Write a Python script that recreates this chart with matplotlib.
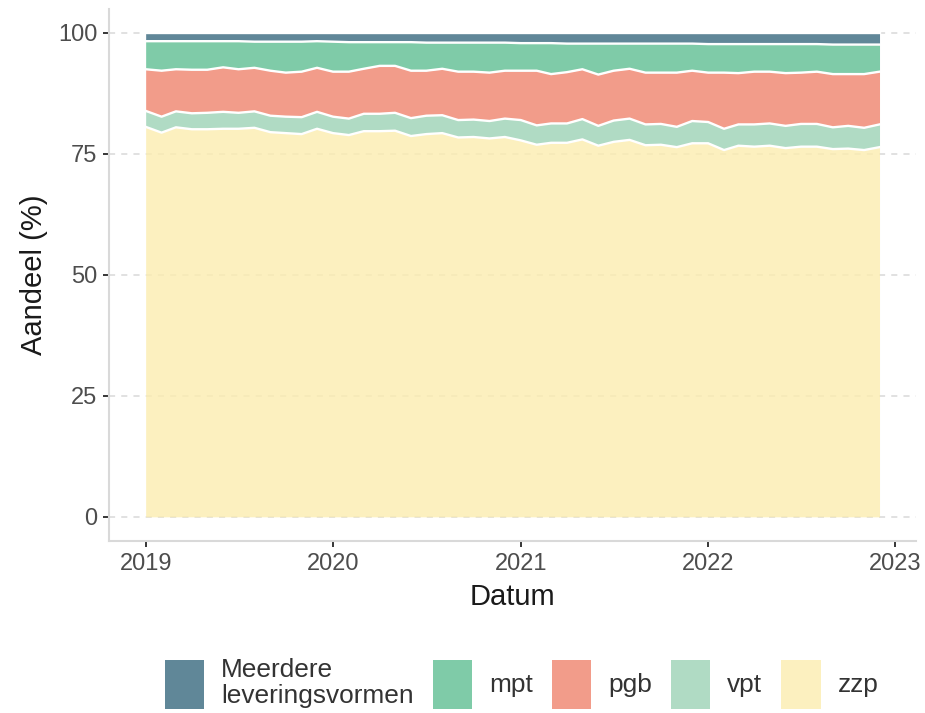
import datetime as dt
import numpy as np
import matplotlib
matplotlib.use("Agg")
import matplotlib.pyplot as plt
import matplotlib.dates as mdates
from matplotlib.patches import Patch

plt.rcParams['font.family'] = ['Liberation Sans', 'DejaVu Sans']

#%% data: monthly share (%) per leveringsvorm, jan 2019 - dec 2022
dates = [dt.date(2019 + m // 12, m % 12 + 1, 1) for m in range(48)]

zzp = [80.6, 79.4, 80.5, 80.1, 80.1, 80.2, 80.2, 80.4, 79.5, 79.3, 79.1, 80.2,
       79.3, 78.9, 79.7, 79.7, 79.8, 78.7, 79.1, 79.3, 78.4, 78.5, 78.2, 78.5,
       77.8, 76.9, 77.3, 77.3, 78.0, 76.7, 77.5, 77.9, 76.8, 76.9, 76.4, 77.2,
       77.2, 75.8, 76.7, 76.5, 76.7, 76.2, 76.5, 76.5, 76.0, 76.1, 75.8, 76.4]
vpt = [3.3, 3.3, 3.3, 3.3, 3.4, 3.5, 3.3, 3.4, 3.4, 3.4, 3.5, 3.5,
       3.4, 3.4, 3.6, 3.6, 3.7, 3.7, 3.8, 3.7, 3.6, 3.6, 3.6, 3.8,
       4.2, 4.0, 4.0, 4.0, 4.2, 4.1, 4.4, 4.4, 4.3, 4.3, 4.2, 4.6,
       4.4, 4.4, 4.4, 4.6, 4.6, 4.6, 4.7, 4.7, 4.5, 4.7, 4.6, 4.7]
pgb = [8.6, 9.5, 8.7, 9.0, 8.9, 9.2, 9.0, 9.0, 9.3, 9.1, 9.4, 9.1,
       9.3, 9.7, 9.3, 9.9, 9.7, 9.8, 9.3, 9.6, 10.0, 9.9, 10.0, 9.9,
       10.2, 11.3, 10.2, 10.6, 10.3, 10.6, 10.3, 10.3, 10.7, 10.6, 11.2, 10.4,
       10.2, 11.6, 10.6, 10.9, 10.7, 10.9, 10.6, 10.8, 11.0, 10.7, 11.1, 10.9]
mpt = [5.8, 6.1, 5.8, 5.9, 5.9, 5.4, 5.8, 5.4, 6.0, 6.4, 6.2, 5.5,
       6.2, 6.1, 5.5, 4.9, 4.9, 5.9, 5.8, 5.4, 6.0, 6.0, 6.2, 5.8,
       5.7, 5.7, 6.4, 5.9, 5.3, 6.4, 5.6, 5.2, 6.0, 6.0, 6.0, 5.6,
       5.9, 5.9, 6.0, 5.7, 5.7, 6.0, 5.9, 5.7, 6.1, 6.1, 6.1, 5.6]
meerdere = [1.7, 1.7, 1.7, 1.7, 1.7, 1.7, 1.7, 1.8, 1.8, 1.8, 1.8, 1.7,
            1.8, 1.9, 1.9, 1.9, 1.9, 1.9, 2.0, 2.0, 2.0, 2.0, 2.0, 2.0,
            2.1, 2.1, 2.1, 2.2, 2.2, 2.2, 2.2, 2.2, 2.2, 2.2, 2.2, 2.2,
            2.3, 2.3, 2.3, 2.3, 2.3, 2.3, 2.3, 2.3, 2.4, 2.4, 2.4, 2.4]

# stacking order bottom -> top
layers = [zzp, vpt, pgb, mpt, meerdere]
labels = ["zzp", "vpt", "pgb", "mpt", "Meerdere\nleveringsvormen"]
colors = ["#FCEDAF", "#9DD3B6", "#EF836D", "#5FBE92", "#38697F"]
alpha = 0.8

#%% plot
fig = plt.figure(figsize=(9.25, 7.13), dpi=100)
ax = fig.add_axes([0.1178, 0.2412, 0.8727, 0.7465])

x = mdates.date2num(dates)
bottom = np.zeros(len(x))
for vals, col in zip(layers, colors):
    top = bottom + np.array(vals)
    ax.fill_between(x, bottom, top, color=col, alpha=alpha, linewidth=0, zorder=2)
    ax.plot(x, top, color='white', linewidth=1.7, zorder=3)
    bottom = top

# 5% expansion like ggplot
span = x[-1] - x[0]
ax.set_xlim(x[0] - 0.05 * span, x[-1] + 0.05 * span)
ax.set_ylim(-5, 105)
ax.set_yticks([0, 25, 50, 75, 100])
ax.xaxis.set_major_locator(mdates.YearLocator())
ax.xaxis.set_major_formatter(mdates.DateFormatter('%Y'))

ax.grid(axis='y', color='#D9D9D9', linestyle=(0, (4, 4)), linewidth=1.1, zorder=1)
ax.set_axisbelow(True)
for s in ['top', 'right']:
    ax.spines[s].set_visible(False)
for s in ['left', 'bottom']:
    ax.spines[s].set_color('#D9D9D9')
    ax.spines[s].set_linewidth(1.5)
ax.tick_params(length=4.3, width=1.1, color='black', labelcolor='#4D4D4D',
               labelsize=17, pad=4)

ax.set_xlabel("Datum", fontsize=21, color='#1A1A1A', labelpad=6)
ax.set_ylabel("Aandeel (%)", fontsize=21, color='#1A1A1A', labelpad=7)

# legend in alphabetical order
handles = [Patch(facecolor=c, alpha=alpha, linewidth=0) for c in colors][::-1]
leg = fig.legend(handles, labels[::-1], loc='center', bbox_to_anchor=(0.5638, 0.0414),
                 ncol=5, frameon=False, fontsize=18.9, handlelength=1.5,
                 handleheight=2.5, handletextpad=0.65, columnspacing=0.72,
                 labelspacing=0.1, borderpad=0)
for t in leg.get_texts():
    t.set_color('#333333')
    t.set_linespacing(1.1)

fig.savefig("out.png", dpi=100)
